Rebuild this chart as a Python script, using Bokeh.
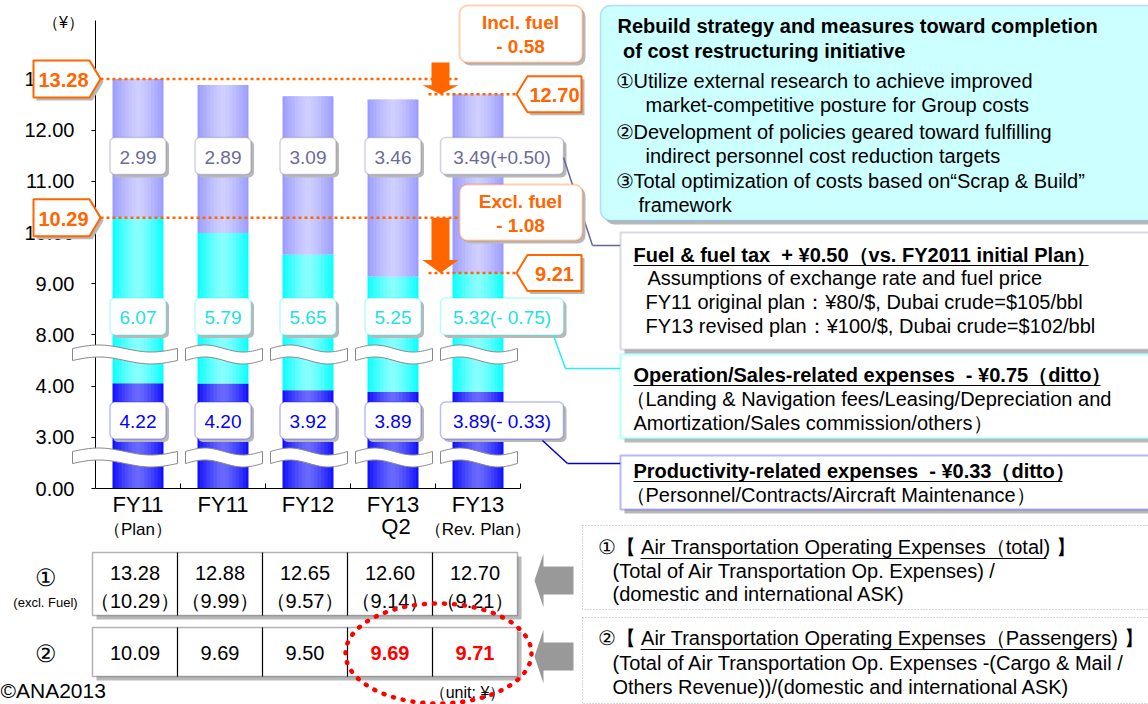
import numpy as np
from bokeh.plotting import figure
from bokeh.models import Range1d, FixedTicker, BoxAnnotation, Label, Arrow
from bokeh.embed import file_html
from bokeh.resources import INLINE

# ---------------- data ----------------
periods = ["FY11 (Plan)", "FY11", "FY12", "FY13 Q2", "FY13 (Rev. Plan)"]
period_top = ["FY11", "FY11", "FY12", "FY13", "FY13"]
period_sub = ["（Plan）", "", "", "Q2", "（Rev. Plan）"]
productivity = [4.22, 4.20, 3.92, 3.89, 3.89]
operations = [6.07, 5.79, 5.65, 5.25, 5.32]
fuel = [2.99, 2.89, 3.09, 3.46, 3.49]
ytick_values = [0, 3, 4, 8, 9, 10, 11, 12, 13]
total_incl = [13.28, 12.88, 12.65, 12.60, 12.70]
total_excl = [10.29, 9.99, 9.57, 9.14, 9.21]
passenger = [10.09, 9.69, 9.50, 9.69, 9.71]
highlight = [False, False, False, True, True]

FONT = "Liberation Sans"
ORANGE = "#FF6600"
SP2 = "\u00a0 "   # a visible double space

# ---------------- layout constants (page px) ----------------
W, H = 1148, 704
FL, FR, FT, FB = 95, 520, 20, 488     # chart area: axis x, axis end, axis top, baseline
UNIT = 51.2                            # px per displayed tick step
n = len(periods)
CW = (FR - FL) / n


def disp(v):
    return np.interp(np.asarray(v, dtype=float), ytick_values, np.arange(len(ytick_values)))


def Y(v):
    return FB - UNIT * float(disp(v))


centers = np.arange(n) + 0.5
p = figure(width=W, height=H, output_backend="svg", toolbar_location=None, title=None,
           x_range=Range1d(-FL / CW, (W - FL) / CW),
           y_range=Range1d(-(H - FB) / UNIT, FB / UNIT),
           min_border=0, min_border_left=0, min_border_right=0,
           min_border_top=0, min_border_bottom=0)
p.extra_x_ranges = {"px": Range1d(0, W)}
p.extra_y_ranges = {"py": Range1d(H, 0)}
p.xgrid.visible = False
p.ygrid.visible = False
p.outline_line_color = None
p.background_fill_color = "white"
p.border_fill_color = "white"

# axes (fixed inside the canvas)
ymax = (FB - FT) / UNIT
p.yaxis.fixed_location = 0
p.yaxis.bounds = (0, ymax)
p.yaxis.ticker = FixedTicker(ticks=list(range(len(ytick_values))))
p.yaxis.major_label_overrides = {i: f"{v:.2f}" for i, v in enumerate(ytick_values)}
p.yaxis.major_label_text_font = FONT
p.yaxis.major_label_text_font_size = "20px"
p.yaxis.major_label_text_color = "black"
p.yaxis.major_tick_out = 4
p.yaxis.major_tick_in = 0
p.yaxis.minor_tick_line_color = None
p.yaxis.major_label_standoff = 17
p.yaxis.axis_line_color = "black"

p.xaxis.fixed_location = 0
p.xaxis.bounds = (0, n)
p.xaxis.ticker = FixedTicker(ticks=list(centers), minor_ticks=list(range(1, n + 1)))
p.xaxis.major_label_overrides = {float(c): t for c, t in zip(centers, period_top)}
p.xaxis.major_label_text_font = FONT
p.xaxis.major_label_text_font_size = "22px"
p.xaxis.major_label_text_color = "black"
p.xaxis.major_tick_line_color = None
p.xaxis.major_tick_out = 0
p.xaxis.major_tick_in = 0
p.xaxis.minor_tick_in = 5
p.xaxis.minor_tick_out = 0
p.xaxis.minor_tick_line_color = "black"
p.xaxis.major_label_standoff = 3
p.xaxis.axis_line_color = "black"

# ---------------- bars (gradient strips) ----------------
s1 = np.array(productivity)
s2 = s1 + np.array(operations)
s3 = s2 + np.array(fuel)
segments = [
    (np.zeros(n), disp(s1), (10, 10, 255), (105, 105, 255)),
    (disp(s1), disp(s2), (0, 255, 255), (135, 255, 255)),
    (disp(s2), disp(s3), (152, 152, 255), (206, 206, 255)),
]
BW = 0.6
NS = 15
sw = BW / NS
for bot, top, edge, mid in segments:
    order = sorted(range(NS), key=lambda i: -abs(i - (NS - 1) / 2))
    for i in order:
        off = -BW / 2 + sw * (i + 0.5)
        t = min(1.0, abs(off) / (BW / 2)) ** 1.3
        c = tuple(int(round(mid[k] + (edge[k] - mid[k]) * t)) for k in range(3))
        wdt = sw * 1.6 if abs(off) + sw * 0.8 < BW / 2 else sw
        p.vbar(x=centers + off, width=wdt, bottom=bot, top=top,
               fill_color="#%02x%02x%02x" % c, line_color=None)


# ---------------- helpers (page pixel coords) ----------------
def rbox(l, t, r, b, fill="white", line="black", lw=1.5, radius=0, shadow=True, dash="solid", sh=3):
    if shadow:
        p.add_layout(BoxAnnotation(left=l + sh, right=r + sh, top=t + sh, bottom=b + sh,
                                   fill_color="#b8b8b8", fill_alpha=1, line_color=None,
                                   border_radius=radius, x_range_name="px", y_range_name="py"))
    p.add_layout(BoxAnnotation(left=l, right=r, top=t, bottom=b, fill_color=fill,
                               fill_alpha=1 if fill else 0, line_color=line, line_width=lw,
                               line_dash=dash, border_radius=radius,
                               x_range_name="px", y_range_name="py"))


def lab(x, y, text, size=20, color="black", align="left", bold=False):
    p.add_layout(Label(x=x, y=y, text=text, x_range_name="px", y_range_name="py",
                       text_align=align, text_baseline="middle", text_font=FONT,
                       text_font_size=f"{size}px", text_color=color,
                       text_font_style="bold" if bold else "normal"))


def poly(xs, ys, fill, line=None, lw=1.0, level="glyph"):
    r = p.patch(x=[float(v) for v in xs], y=[float(v) for v in ys], fill_color=fill,
                fill_alpha=1.0 if fill else 0.0, line_color=line, line_width=lw,
                line_alpha=1.0 if line else 0.0,
                x_range_name="px", y_range_name="py")
    r.level = level


def seg(x0, y0, x1, y1, color, lw=1.5, dash="solid"):
    p.add_layout(Arrow(end=None, x_start=x0, y_start=y0, x_end=x1, y_end=y1,
                       line_color=color, line_width=lw, line_dash=dash,
                       x_range_name="px", y_range_name="py"))


def ulabel(x, y, text, x_end, size=20, bold=False):
    lab(x, y, text, size=size, bold=bold)
    seg(x, y + 11, x_end, y + 11, "black", lw=1.2)


cx = [FL + CW * (i + 0.5) for i in range(n)]
half_bar = CW * BW / 2

# break marks (on top of axis)
for i in range(n):
    left = cx[i] - half_bar - 12 if i > 0 else 72
    right = cx[i] + half_bar + 14
    for yc in (354, 457):
        tt = np.linspace(0, 1, 40)
        xs = left + (right - left) * tt
        top = yc - 6 - 3.5 * np.sin(2 * np.pi * tt)
        poly(np.concatenate([xs, xs[::-1]]), np.concatenate([top, (top + 12)[::-1]]),
             "white", "#888888", lw=1, level="overlay")

# value boxes
rows = [
    (fuel, 155.5, "#666699", "#6a6a9a"),
    (operations, 316, "#22EEF5", "#22E0EA"),
    (productivity, 420, "#2222FF", "#0000FF"),
]
for vals, yc, bcol, tcol in rows:
    for i, v in enumerate(vals):
        txt = f"{v:.2f}"
        if i == n - 1:
            d = vals[-1] - vals[0]
            txt += f"(+{d:.2f})" if d >= 0 else f"(- {abs(d):.2f})"
            l, r = 440, 563
        else:
            l, r = cx[i] - 28, cx[i] + 28
        rbox(l, yc - 18.5, r, yc + 18.5, "white", bcol, lw=1.5, radius=5)
        lab((l + r) / 2, yc + 1, txt, size=19, color=tcol, align="center")

# connector lines
seg(563, 157, 592, 245, "#666699"); seg(592, 245, 620, 245, "#666699")
seg(553, 335, 565, 368, "#22EEF5"); seg(565, 368, 620, 368, "#22EEF5")
seg(542, 440, 567, 463, "#0000CC"); seg(567, 463, 620, 463, "#0000CC")

# sub labels for x axis
for i, s in enumerate(period_sub):
    if s == "Q2":
        lab(cx[i] + 3, 526, s, size=22, align="center")
    elif s:
        lab(cx[i], 529, s, size=17, align="center")
lab(63, 22, "（¥）", size=16, align="center")

# orange dotted lines
y_incl0, y_incl1 = Y(total_incl[0]), Y(total_incl[-1])
y_excl0, y_excl1 = Y(total_excl[0]), Y(total_excl[-1])
seg(100, y_incl0, 459, y_incl0, ORANGE, lw=2.5, dash="3 3")
seg(100, y_excl0, 459, y_excl0, ORANGE, lw=2.5, dash="3 3")
seg(428, y_incl1, 516, y_incl1, ORANGE, lw=2.5, dash="3 3")
seg(428, y_excl1, 516, y_excl1, ORANGE, lw=2.5, dash="3 3")


def tag_right(yc, text):
    h = 18.5
    xs = [33, 89, 100, 89, 33]
    ys = [yc - h, yc - h, yc, yc + h, yc + h]
    poly([x + 3 for x in xs], [y + 3 for y in ys], "#b8b8b8", level="annotation")
    poly(xs, ys, "white", ORANGE, lw=2, level="annotation")
    lab(63, yc + 1, text, size=20, color=ORANGE, align="center", bold=True)


def tag_left(yc, text):
    h = 18
    xs = [516, 527, 581, 581, 527]
    ys = [yc, yc - h, yc - h, yc + h, yc + h]
    poly([x + 3 for x in xs], [y + 3 for y in ys], "#b8b8b8", level="annotation")
    poly(xs, ys, "white", ORANGE, lw=2, level="annotation")
    lab(554, yc + 1, text, size=20, color=ORANGE, align="center", bold=True)


def down_arrow(xc, y0, ytip):
    yh = ytip - 9 if ytip - y0 < 40 else ytip - 13
    poly([xc - 9, xc + 9, xc + 9, xc + 18, xc, xc - 18, xc - 9],
         [y0, y0, yh, yh, ytip, yh, yh], ORANGE)


tag_right(y_incl0, f"{total_incl[0]:.2f}")
tag_right(y_excl0, f"{total_excl[0]:.2f}")
tag_left(y_incl1, f"{total_incl[-1]:.2f}")
tag_left(y_excl1, f"{total_excl[-1]:.2f}")

down_arrow(440, 62, y_incl1)
down_arrow(440, y_excl0, y_excl1)

rbox(459, 5, 582, 62, "white", ORANGE, lw=2, radius=8)
lab(520, 22, "Incl. fuel", size=19, color=ORANGE, align="center", bold=True)
lab(520, 46, f"- {total_incl[0] - total_incl[-1]:.2f}", size=19, color=ORANGE, align="center", bold=True)
rbox(459, 184, 582, 240, "white", ORANGE, lw=2, radius=8)
lab(520, 201, "Excl. fuel", size=19, color=ORANGE, align="center", bold=True)
lab(520, 225, f"- {total_excl[0] - total_excl[-1]:.2f}", size=19, color=ORANGE, align="center", bold=True)

# ---------------- right-hand text panels ----------------
rbox(600, 5, 1170, 220, "#CCFFFF", "#3D8BFF", lw=1.5, radius=10, sh=4)
lab(617, 25, "Rebuild strategy and measures toward completion", bold=True)
lab(617, 50, "\u00a0of cost restructuring initiative", bold=True)
lab(615, 80, "①Utilize external research to achieve improved")
lab(645, 104, "market-competitive posture for Group costs")
lab(615, 131, "②Development of policies geared toward fulfilling")
lab(645, 155, "indirect personnel cost reduction targets")
lab(615, 180, "③Total optimization of costs based on“Scrap & Build”")
lab(638, 204, "framework")

fd = fuel[-1] - fuel[0]
od = operations[-1] - operations[0]
pd_ = productivity[-1] - productivity[0]
rbox(620, 232, 1170, 349, "white", "#8080AA", lw=2, sh=4)
ulabel(633, 254, f"Fuel & fuel tax{SP2}+ ¥{fd:.2f}（vs. FY2011 initial Plan）", 1088, bold=True)
lab(647, 277, "Assumptions of exchange rate and fuel price")
lab(645, 301, "FY11 original plan：¥80/$, Dubai crude=$105/bbl")
lab(645, 325, "FY13 revised plan：¥100/$, Dubai crude=$102/bbl")

rbox(620, 354, 1170, 438, "white", "#33FFFF", lw=2.5, sh=4)
ulabel(633, 374, f"Operation/Sales-related expenses{SP2}- ¥{abs(od):.2f}（ditto）", 1100, bold=True)
lab(625, 398, "（Landing & Navigation fees/Leasing/Depreciation and")
lab(633, 422, "Amortization/Sales commission/others）")

rbox(620, 455, 1170, 509, "white", "#1010FF", lw=2, sh=4)
ulabel(633, 470, f"Productivity-related expenses{SP2}- ¥{abs(pd_):.2f}（ditto）", 1062, bold=True)
lab(625, 494, "（Personnel/Contracts/Aircraft Maintenance）")

# ---------------- bottom tables ----------------
TL, TR = 92, 517
cw = (TR - TL) / n
rbox(TL, 552, TR, 615, "white", "black", lw=1.5, sh=4)
rbox(TL, 627, TR, 676, "white", "black", lw=1.5, sh=4)
for k in range(1, n):
    xk = TL + cw * k
    seg(xk, 552, xk, 615, "black", lw=1.2)
    seg(xk, 627, xk, 676, "black", lw=1.2)
for i in range(n):
    xc = TL + cw * (i + 0.5)
    lab(xc, 572, f"{total_incl[i]:.2f}", align="center")
    lab(xc, 600, f"（{total_excl[i]:.2f}）", align="center")
    lab(xc, 652, f"{passenger[i]:.2f}", align="center",
        color="#FF0000" if highlight[i] else "black", bold=highlight[i])
lab(45, 577, "①", size=24, align="center")
lab(45, 602, "(excl. Fuel)", size=13, align="center")
lab(45, 653, "②", size=24, align="center")
lab(0, 690, "©ANA2013", size=21)
lab(467, 692, "（unit: ¥）", size=16, align="center")

# gray arrows
for yc in (580, 656):
    poly([534, 543, 543, 573, 573, 543, 543], [yc, yc - 27, yc - 14, yc - 14, yc + 14, yc + 14, yc + 27],
         "#999999")

# dotted definition boxes
rbox(582, 525, 1170, 609, None, "black", lw=1, shadow=False, dash="1 2")
rbox(582, 617, 1170, 703, None, "black", lw=1, shadow=False, dash="1 2")
lab(597, 546, "①【 Air Transportation Operating Expenses（total) 】")
seg(640, 558, 1046, 558, "black", lw=1.2)
lab(612, 570, "(Total of Air Transportation Op. Expenses) /")
lab(612, 593, "(domestic and international ASK)")
lab(597, 637, "②【 Air Transportation Operating Expenses（Passengers) 】")
seg(640, 649, 1115, 649, "black", lw=1.2)
lab(612, 662, "(Total of Air Transportation Op. Expenses -(Cargo & Mail /")
lab(612, 686, "Others Revenue))/(domestic and international ASK)")

# red dotted ellipse
th = np.linspace(0, 2 * np.pi, 161)
er = p.line(x=list(438 + 93 * np.cos(th)), y=list(653 + 50 * np.sin(th)), line_color="#FF0000",
            line_width=4.5, line_dash="1 9", line_cap="round", x_range_name="px", y_range_name="py")
er.level = "overlay"

open("out.html", "w").write(file_html(p, INLINE))
